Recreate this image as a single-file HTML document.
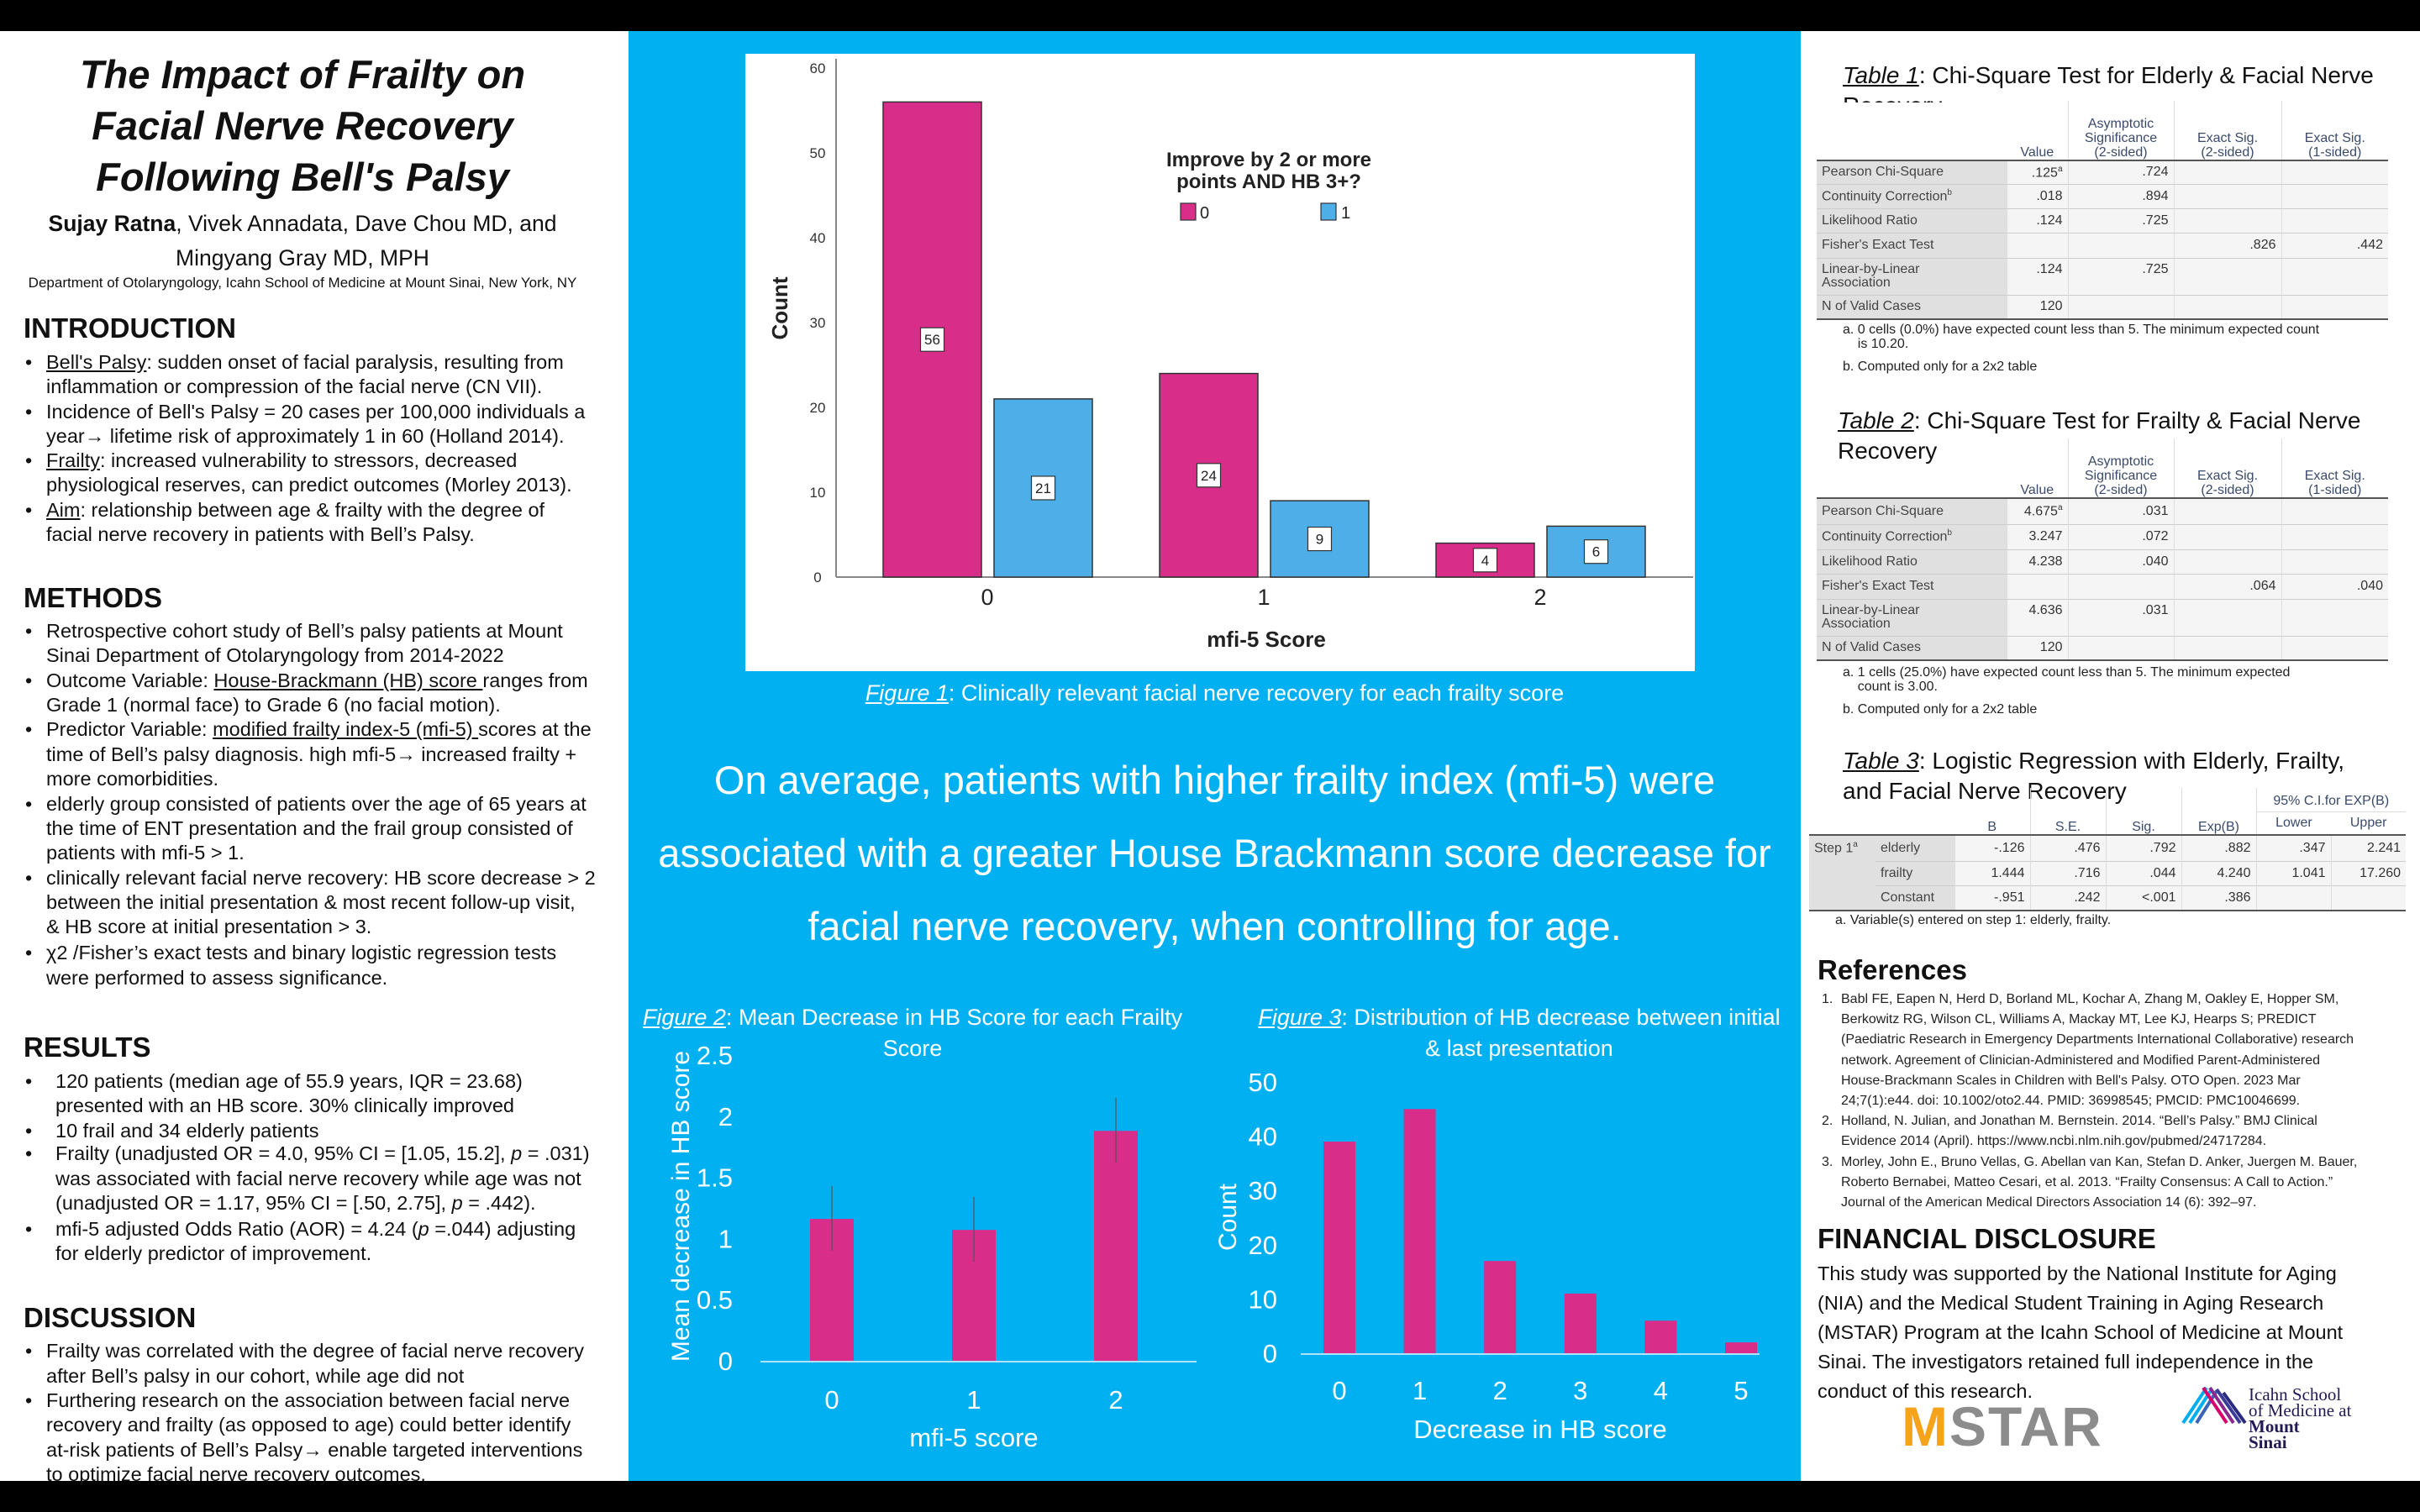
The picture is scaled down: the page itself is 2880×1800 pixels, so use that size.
<!DOCTYPE html>
<html><head><meta charset="utf-8">
<style>
*{margin:0;padding:0;box-sizing:border-box}
body{width:2880px;height:1800px;position:relative;overflow:hidden;background:#fff;font-family:"Liberation Sans",sans-serif;color:#111}
.abs{position:absolute}
.ln{position:absolute;white-space:nowrap;font-size:23.5px;line-height:29px}
.h{position:absolute;font-weight:bold;font-size:33px;white-space:nowrap}
u{text-decoration:underline}
.ar{font-weight:bold}
.tbl{position:absolute;border-collapse:collapse;font-size:16px;color:#333;table-layout:fixed}
.tbl td{padding:0 6px;border-top:1px solid #ccc;vertical-align:middle;white-space:nowrap}
.tbl td.l{background:#e0e0e0;color:#444}
.tbl td.c{background:#f5f5f5;text-align:right;border-left:1px solid #ddd}
.tbl tr.hd td{border-top:none;background:transparent;text-align:center;color:#3a4a6a;vertical-align:bottom;line-height:17px;border-left:1px solid #ddd}
.tbl tr.hd td:first-child{border-left:none}
.tbl tr.f td{border-bottom:2px solid #555}
.tbl tr.first td{border-top:2px solid #555}
.fn{position:absolute;font-size:16px;color:#222;white-space:nowrap;line-height:17px}
.ttl{position:absolute;font-size:28px;white-space:nowrap;line-height:36px}
.ref{position:absolute;font-size:16px;line-height:24.2px;color:#222;white-space:nowrap}
</style></head><body>
<div class="abs" style="left:0;top:0;width:2880px;height:37px;background:#000"></div>
<div class="abs" style="left:0;top:1763px;width:2880px;height:37px;background:#000"></div>
<div class="abs" style="left:748px;top:37px;width:1395px;height:1726px;background:#00b0f0"></div>

<!-- LEFT COLUMN -->
<div class="abs" style="left:0;top:58px;width:720px;text-align:center;font-weight:bold;font-style:italic;font-size:47px;line-height:61px">The Impact of Frailty on<br>Facial Nerve Recovery<br>Following Bell's Palsy</div>
<div class="abs" style="left:0;top:246px;width:720px;text-align:center;font-size:26.5px;line-height:41px"><b>Sujay Ratna</b>, Vivek Annadata, Dave Chou MD, and<br>Mingyang Gray MD, MPH</div>
<div class="abs" style="left:0;top:327px;width:720px;text-align:center;font-size:17px;white-space:nowrap">Department of Otolaryngology, Icahn School of Medicine at Mount Sinai, New York, NY</div>

<div class="h" style="left:28px;top:372px">INTRODUCTION</div>
<div>
<div class="ln" style="left:30px;top:417px">•</div><div class="ln" style="left:55px;top:417px"><u>Bell's Palsy</u>: sudden onset of facial paralysis, resulting from</div>
<div class="ln" style="left:55px;top:446px">inflammation or compression of the facial nerve (CN VII).</div>
<div class="ln" style="left:30px;top:476px">•</div><div class="ln" style="left:55px;top:476px">Incidence of Bell's Palsy = 20 cases per 100,000 individuals a</div>
<div class="ln" style="left:55px;top:505px">year<span class="ar">→</span> lifetime risk of approximately 1 in 60 (Holland 2014).</div>
<div class="ln" style="left:30px;top:534px">•</div><div class="ln" style="left:55px;top:534px"><u>Frailty</u>: increased vulnerability to stressors, decreased</div>
<div class="ln" style="left:55px;top:563px">physiological reserves, can predict outcomes (Morley 2013).</div>
<div class="ln" style="left:30px;top:593px">•</div><div class="ln" style="left:55px;top:593px"><u>Aim</u>: relationship between age &amp; frailty with the degree of</div>
<div class="ln" style="left:55px;top:622px">facial nerve recovery in patients with Bell’s Palsy.</div>
</div>

<div class="h" style="left:28px;top:693px">METHODS</div>
<div>
<div class="ln" style="left:30px;top:737px">•</div><div class="ln" style="left:55px;top:737px">Retrospective cohort study of Bell’s palsy patients at Mount</div>
<div class="ln" style="left:55px;top:766px">Sinai Department of Otolaryngology from 2014-2022</div>
<div class="ln" style="left:30px;top:796px">•</div><div class="ln" style="left:55px;top:796px">Outcome Variable: <u>House-Brackmann (HB) score </u>ranges from</div>
<div class="ln" style="left:55px;top:825px">Grade 1 (normal face) to Grade 6 (no facial motion).</div>
<div class="ln" style="left:30px;top:854px">•</div><div class="ln" style="left:55px;top:854px">Predictor Variable: <u>modified frailty index-5 (mfi-5) </u>scores at the</div>
<div class="ln" style="left:55px;top:884px">time of Bell’s palsy diagnosis. high mfi-5<span class="ar">→</span> increased frailty +</div>
<div class="ln" style="left:55px;top:913px">more comorbidities.</div>
<div class="ln" style="left:30px;top:943px">•</div><div class="ln" style="left:55px;top:943px">elderly group consisted of patients over the age of 65 years at</div>
<div class="ln" style="left:55px;top:972px">the time of ENT presentation and the frail group consisted of</div>
<div class="ln" style="left:55px;top:1001px">patients with mfi-5 &gt; 1.</div>
<div class="ln" style="left:30px;top:1031px">•</div><div class="ln" style="left:55px;top:1031px">clinically relevant facial nerve recovery:  HB score decrease &gt; 2</div>
<div class="ln" style="left:55px;top:1060px">between the initial presentation &amp; most recent follow-up visit,</div>
<div class="ln" style="left:55px;top:1089px">&amp; HB score at initial presentation &gt; 3.</div>
<div class="ln" style="left:30px;top:1120px">•</div><div class="ln" style="left:55px;top:1120px">χ2 /Fisher’s exact tests and binary logistic regression tests</div>
<div class="ln" style="left:55px;top:1150px">were performed to assess significance.</div>
</div>

<div class="h" style="left:28px;top:1228px">RESULTS</div>
<div>
<div class="ln" style="left:30px;top:1273px">•</div><div class="ln" style="left:66px;top:1273px">120 patients (median age of 55.9 years, IQR = 23.68)</div>
<div class="ln" style="left:66px;top:1302px">presented with an HB score. 30% clinically improved</div>
<div class="ln" style="left:30px;top:1332px">•</div><div class="ln" style="left:66px;top:1332px">10 frail and 34 elderly patients</div>
<div class="ln" style="left:30px;top:1359px">•</div><div class="ln" style="left:66px;top:1359px">Frailty (unadjusted OR = 4.0, 95% CI = [1.05, 15.2], <i>p</i> = .031)</div>
<div class="ln" style="left:66px;top:1389px">was associated with facial nerve recovery while age was not</div>
<div class="ln" style="left:66px;top:1418px">(unadjusted OR = 1.17, 95% CI = [.50, 2.75], <i>p</i> = .442).</div>
<div class="ln" style="left:30px;top:1449px">•</div><div class="ln" style="left:66px;top:1449px">mfi-5 adjusted Odds Ratio (AOR) = 4.24 (<i>p</i> =.044) adjusting</div>
<div class="ln" style="left:66px;top:1478px">for elderly predictor of improvement.</div>
</div>

<div class="h" style="left:28px;top:1550px">DISCUSSION</div>
<div>
<div class="ln" style="left:30px;top:1594px">•</div><div class="ln" style="left:55px;top:1594px">Frailty was correlated with the degree of facial nerve recovery</div>
<div class="ln" style="left:55px;top:1624px">after Bell’s palsy in our cohort, while age did not</div>
<div class="ln" style="left:30px;top:1653px">•</div><div class="ln" style="left:55px;top:1653px">Furthering research on the association between facial nerve</div>
<div class="ln" style="left:55px;top:1682px">recovery and frailty (as opposed to age) could better identify</div>
<div class="ln" style="left:55px;top:1712px">at-risk patients of Bell’s Palsy<span class="ar">→</span> enable targeted interventions</div>
<div class="ln" style="left:55px;top:1741px">to optimize facial nerve recovery outcomes.</div>
</div>

<!-- CENTER -->
<div class="abs" style="left:887px;top:64px;width:1130px;height:735px;background:#fff"></div>
<div class="abs" style="left:748px;top:810px;width:1395px;text-align:center;color:#fff;font-size:27px;white-space:nowrap"><i><u>Figure 1</u></i>: Clinically relevant facial nerve recovery for each frailty score</div>
<div class="abs" style="left:748px;top:885px;width:1395px;text-align:center;color:#fff;font-size:47px;line-height:87px;white-space:nowrap">On average, patients with higher frailty index (mfi-5) were<br>associated with a greater House Brackmann score decrease for<br>facial nerve recovery, when controlling for age.</div>
<div class="abs" style="left:748px;top:1193px;width:676px;text-align:center;color:#fff;font-size:27px;line-height:37px;white-space:nowrap"><i><u>Figure 2</u></i>: Mean Decrease in HB Score for each Frailty<br>Score</div>
<div class="abs" style="left:1470px;top:1193px;width:676px;text-align:center;color:#fff;font-size:27px;line-height:37px;white-space:nowrap"><i><u>Figure 3</u></i>: Distribution of HB decrease between initial<br>&amp; last presentation</div>

<svg id="charts" class="abs" style="left:0;top:0" width="2880" height="1800" xmlns="http://www.w3.org/2000/svg"></svg>

<!-- RIGHT COLUMN -->
<div class="ttl" style="left:2193px;top:72px"><i><u>Table 1</u></i>: Chi-Square Test for Elderly &amp; Facial Nerve</div>
<div class="abs" style="left:2193px;top:108px;height:14px;overflow:hidden;font-size:28px;line-height:36px"><div style="margin-top:0">Recovery</div></div>
<table class="tbl" style="left:2162px;top:120px;width:680px">
<colgroup><col style="width:226px"><col style="width:73px"><col style="width:126px"><col style="width:128px"><col style="width:127px"></colgroup>
<tr class="hd" style="height:71px"><td></td><td style="border-left:none">Value</td><td>Asymptotic<br>Significance<br>(2-sided)</td><td>Exact Sig.<br>(2-sided)</td><td>Exact Sig.<br>(1-sided)</td></tr>
<tr class="first" style="height:28px"><td class="l">Pearson Chi-Square</td><td class="c">.125<sup style="font-size:10px">a</sup></td><td class="c">.724</td><td class="c"></td><td class="c"></td></tr>
<tr style="height:29px"><td class="l">Continuity Correction<sup style="font-size:10px">b</sup></td><td class="c">.018</td><td class="c">.894</td><td class="c"></td><td class="c"></td></tr>
<tr style="height:29px"><td class="l">Likelihood Ratio</td><td class="c">.124</td><td class="c">.725</td><td class="c"></td><td class="c"></td></tr>
<tr style="height:30px"><td class="l">Fisher's Exact Test</td><td class="c"></td><td class="c"></td><td class="c">.826</td><td class="c">.442</td></tr>
<tr style="height:44px"><td class="l" style="line-height:16px">Linear-by-Linear<br>Association</td><td class="c" style="vertical-align:top;padding-top:4px">.124</td><td class="c" style="vertical-align:top;padding-top:4px">.725</td><td class="c"></td><td class="c"></td></tr>
<tr class="f" style="height:29px"><td class="l">N of Valid Cases</td><td class="c">120</td><td class="c"></td><td class="c"></td><td class="c"></td></tr>
</table>
<div class="fn" style="left:2193px;top:384px">a. 0 cells (0.0%) have expected count less than 5. The minimum expected count<br>&nbsp;&nbsp;&nbsp;&nbsp;is 10.20.<br><span style="display:inline-block;margin-top:10px">b. Computed only for a 2x2 table</span></div>

<div class="ttl" style="left:2187px;top:483px;line-height:36px"><i><u>Table 2</u></i>: Chi-Square Test for Frailty &amp; Facial Nerve<br>Recovery</div>
<table class="tbl" style="left:2162px;top:522px;width:680px">
<colgroup><col style="width:226px"><col style="width:73px"><col style="width:126px"><col style="width:128px"><col style="width:127px"></colgroup>
<tr class="hd" style="height:71px"><td></td><td style="border-left:none">Value</td><td>Asymptotic<br>Significance<br>(2-sided)</td><td>Exact Sig.<br>(2-sided)</td><td>Exact Sig.<br>(1-sided)</td></tr>
<tr class="first" style="height:31px"><td class="l">Pearson Chi-Square</td><td class="c">4.675<sup style="font-size:10px">a</sup></td><td class="c">.031</td><td class="c"></td><td class="c"></td></tr>
<tr style="height:30px"><td class="l">Continuity Correction<sup style="font-size:10px">b</sup></td><td class="c">3.247</td><td class="c">.072</td><td class="c"></td><td class="c"></td></tr>
<tr style="height:29px"><td class="l">Likelihood Ratio</td><td class="c">4.238</td><td class="c">.040</td><td class="c"></td><td class="c"></td></tr>
<tr style="height:30px"><td class="l">Fisher's Exact Test</td><td class="c"></td><td class="c"></td><td class="c">.064</td><td class="c">.040</td></tr>
<tr style="height:44px"><td class="l" style="line-height:16px">Linear-by-Linear<br>Association</td><td class="c" style="vertical-align:top;padding-top:4px">4.636</td><td class="c" style="vertical-align:top;padding-top:4px">.031</td><td class="c"></td><td class="c"></td></tr>
<tr class="f" style="height:29px"><td class="l">N of Valid Cases</td><td class="c">120</td><td class="c"></td><td class="c"></td><td class="c"></td></tr>
</table>
<div class="fn" style="left:2193px;top:792px">a. 1 cells (25.0%) have expected count less than 5. The minimum expected<br>&nbsp;&nbsp;&nbsp;&nbsp;count is 3.00.<br><span style="display:inline-block;margin-top:10px">b. Computed only for a 2x2 table</span></div>

<div class="ttl" style="left:2193px;top:888px;line-height:36px"><i><u>Table 3</u></i>: Logistic Regression with Elderly, Frailty,<br>and Facial Nerve Recovery</div>
<table class="tbl" style="left:2153px;top:938px;width:710px">
<colgroup><col style="width:79px"><col style="width:94px"><col style="width:90px"><col style="width:90px"><col style="width:90px"><col style="width:89px"><col style="width:89px"><col style="width:89px"></colgroup>
<tr class="hd" style="height:56px"><td style="border-left:none"></td><td style="border-left:none"></td><td style="border-left:none">B</td><td>S.E.</td><td>Sig.</td><td>Exp(B)</td><td colspan="2" style="padding:0"><div style="border-bottom:1px solid #ddd;line-height:24px">95% C.I.for EXP(B)</div><div style="display:flex;line-height:26px"><span style="flex:1">Lower</span><span style="flex:1">Upper</span></div></td></tr>
<tr class="first" style="height:31px"><td class="l" style="border-bottom:none">Step 1<sup style="font-size:10px">a</sup></td><td class="l">elderly</td><td class="c">-.126</td><td class="c">.476</td><td class="c">.792</td><td class="c">.882</td><td class="c">.347</td><td class="c">2.241</td></tr>
<tr style="height:29px"><td class="l" style="border-top:none"></td><td class="l">frailty</td><td class="c">1.444</td><td class="c">.716</td><td class="c">.044</td><td class="c">4.240</td><td class="c">1.041</td><td class="c">17.260</td></tr>
<tr class="f" style="height:30px"><td class="l" style="border-top:none"></td><td class="l">Constant</td><td class="c">-.951</td><td class="c">.242</td><td class="c">&lt;.001</td><td class="c">.386</td><td class="c"></td><td class="c"></td></tr>
</table>
<div class="fn" style="left:2184px;top:1087px">a. Variable(s) entered on step 1: elderly, frailty.</div>

<div class="h" style="left:2163px;top:1136px">References</div>
<div>
<div class="ref" style="left:2168px;top:1178px">1.</div>
<div class="ref" style="left:2191px;top:1178px">Babl FE, Eapen N, Herd D, Borland ML, Kochar A, Zhang M, Oakley E, Hopper SM,<br>Berkowitz RG, Wilson CL, Williams A, Mackay MT, Lee KJ, Hearps S; PREDICT<br>(Paediatric Research in Emergency Departments International Collaborative) research<br>network. Agreement of Clinician-Administered and Modified Parent-Administered<br>House-Brackmann Scales in Children with Bell's Palsy. OTO Open. 2023 Mar<br>24;7(1):e44. doi: 10.1002/oto2.44. PMID: 36998545; PMCID: PMC10046699.</div>
<div class="ref" style="left:2168px;top:1323px">2.</div>
<div class="ref" style="left:2191px;top:1323px">Holland, N. Julian, and Jonathan M. Bernstein. 2014. “Bell’s Palsy.” BMJ Clinical<br>Evidence 2014 (April). https://www.ncbi.nlm.nih.gov/pubmed/24717284.</div>
<div class="ref" style="left:2168px;top:1372px">3.</div>
<div class="ref" style="left:2191px;top:1372px">Morley, John E., Bruno Vellas, G. Abellan van Kan, Stefan D. Anker, Juergen M. Bauer,<br>Roberto Bernabei, Matteo Cesari, et al. 2013. “Frailty Consensus: A Call to Action.”<br>Journal of the American Medical Directors Association 14 (6): 392–97.</div>
</div>

<div class="h" style="left:2163px;top:1456px">FINANCIAL DISCLOSURE</div>
<div class="abs" style="left:2163px;top:1499px;font-size:23.5px;line-height:35px;white-space:nowrap">This study was supported by the National Institute for Aging<br>(NIA) and the Medical Student Training in Aging Research<br>(MSTAR) Program at the Icahn School of Medicine at Mount<br>Sinai. The investigators retained full independence in the<br>conduct of this research.</div>
<div class="abs" style="left:2263px;top:1663px;font-size:66px;font-weight:bold;line-height:70px;letter-spacing:2px"><span style="color:#f5a31a">M</span><span style="color:#8c8c8c">STAR</span></div>
<svg class="abs" style="left:2596px;top:1648px" width="78" height="50">
<g stroke-width="4">
<line x1="2" y1="46" x2="30" y2="4" stroke="#00aeef"/><line x1="10" y1="46" x2="36" y2="6" stroke="#00aeef"/><line x1="18" y1="46" x2="42" y2="8" stroke="#3b63b8"/>
<line x1="26" y1="4" x2="54" y2="46" stroke="#d6006e"/><line x1="34" y1="4" x2="62" y2="46" stroke="#8a2a8f"/><line x1="42" y1="6" x2="70" y2="46" stroke="#3b3b98"/><line x1="50" y1="10" x2="76" y2="46" stroke="#2b2b80"/>
</g></svg>
<div class="abs" style="left:2676px;top:1651px;font-family:'Liberation Serif',serif;font-size:21px;line-height:19px;color:#221a55">Icahn School<br>of Medicine at<br><b>Mount</b><br><b>Sinai</b></div>

<script>
const NS='http://www.w3.org/2000/svg';
const svg=document.getElementById('charts');
// Figure 1 data
const f1Categories=['0','1','2'];
const f1Series0=[56,24,4];
const f1Series1=[21,9,6];
const f1Ticks=[0,10,20,30,40,50,60];
// Figure 2 data
const f2Categories=['0','1','2'];
const f2Means=[1.16,1.07,1.88];
const f2ErrUpper=[1.43,1.34,2.15];
const f2ErrLower=[0.90,0.81,1.62];
const f2Ticks=['0','0.5','1','1.5','2','2.5'];
// Figure 3 data
const f3Categories=['0','1','2','3','4','5'];
const f3Counts=[39,45,17,11,6,2];
const f3Ticks=[0,10,20,30,40,50];

function el(tag,attrs,text){const e=document.createElementNS(NS,tag);for(const k in attrs)e.setAttribute(k,attrs[k]);if(text!==undefined)e.textContent=text;svg.appendChild(e);return e;}

// ---- Figure 1 ----
const y1=v=>687-v*(606/60);
const x1=i=>1175+i*329;
f1Ticks.forEach(t=>{const e=el('text',{x:973,y:y1(t)+6,'text-anchor':'middle','font-size':17,fill:'#333'},String(t));

});
let ax=el('line',{x1:995,y1:70,x2:995,y2:687,stroke:'#888','stroke-width':2});


ax=el('line',{x1:995,y1:687,x2:2015,y2:687,stroke:'#888','stroke-width':2});


function f1Bar(x,v,col,name){
 const r=el('rect',{x:x,y:y1(v),width:117,height:y1(0)-y1(v),fill:col,stroke:'#333','stroke-width':1.5});
 
 
 const cy=y1(v/2);
 const b=el('rect',{x:x+58.5-14,y:cy-14,width:28,height:28,fill:'#fff',stroke:'#333','stroke-width':1.2});
 
 
 const t=el('text',{x:x+58.5,y:cy+6,'text-anchor':'middle','font-size':17,fill:'#222'},String(v));
 
 
}
f1Categories.forEach((c,i)=>{
 f1Bar(x1(i)-124,f1Series0[i],'#d92d8a','fig1-bar-no-improve-'+c);
 f1Bar(x1(i)+8,f1Series1[i],'#4eaee8','fig1-bar-improve-'+c);
 const t=el('text',{x:x1(i),y:720,'text-anchor':'middle','font-size':27,fill:'#222'},c);
 
 
});
let t=el('text',{x:1507,y:770,'text-anchor':'middle','font-size':26,'font-weight':'bold',fill:'#222'},'mfi-5 Score');


t=el('text',{x:937,y:367,'text-anchor':'middle','font-size':26,'font-weight':'bold',fill:'#222',transform:'rotate(-90 937 367)'},'Count');


t=el('text',{x:1510,y:198,'text-anchor':'middle','font-size':24,'font-weight':'bold',fill:'#222'},'Improve by 2 or more');


t=el('text',{x:1510,y:224,'text-anchor':'middle','font-size':24,'font-weight':'bold',fill:'#222'},'points AND HB 3+?');


let r=el('rect',{x:1405,y:242,width:18,height:20,fill:'#d92d8a',stroke:'#333','stroke-width':1.2});


t=el('text',{x:1428,y:260,'font-size':20,fill:'#222'},'0');


r=el('rect',{x:1572,y:242,width:18,height:20,fill:'#4eaee8',stroke:'#333','stroke-width':1.2});


t=el('text',{x:1596,y:260,'font-size':20,fill:'#222'},'1');



// ---- Figure 2 ----
const y2=v=>1620-v*145.6;
const x2=i=>990+i*169;
f2Ticks.forEach(s=>{const e=el('text',{x:872,y:y2(parseFloat(s))+11,'text-anchor':'end','font-size':31,fill:'#fff'},s);

});
ax=el('line',{x1:905,y1:1621,x2:1424,y2:1621,stroke:'#e8f6fd','stroke-width':1.5});


f2Categories.forEach((c,i)=>{
 const b=el('rect',{x:x2(i)-26,y:y2(f2Means[i]),width:52,height:y2(0)-y2(f2Means[i]),fill:'#d92d8a'});
 
 
 const e=el('line',{x1:x2(i),y1:y2(f2ErrUpper[i]),x2:x2(i),y2:y2(f2ErrLower[i]),stroke:'#555','stroke-width':1.2});
 
 
 const l=el('text',{x:x2(i),y:1677,'text-anchor':'middle','font-size':31,fill:'#fff'},c);
 
 
});
t=el('text',{x:1159,y:1722,'text-anchor':'middle','font-size':31,fill:'#fff'},'mfi-5 score');


t=el('text',{x:820,y:1436,'text-anchor':'middle','font-size':30,fill:'#fff',transform:'rotate(-90 820 1436)'},'Mean decrease in HB score');



// ---- Figure 3 ----
const y3=v=>1611-v*6.46;
const x3=i=>1594+i*95.6;
f3Ticks.forEach(v=>{const e=el('text',{x:1520,y:y3(v)+11,'text-anchor':'end','font-size':31,fill:'#fff'},String(v));

});
ax=el('line',{x1:1548,y1:1612,x2:2094,y2:1612,stroke:'#e8f6fd','stroke-width':1.5});


f3Categories.forEach((c,i)=>{
 const b=el('rect',{x:x3(i)-19,y:y3(f3Counts[i]),width:38,height:y3(0)-y3(f3Counts[i]),fill:'#d92d8a'});
 
 
 const l=el('text',{x:x3(i),y:1666,'text-anchor':'middle','font-size':31,fill:'#fff'},c);
 
 
});
t=el('text',{x:1833,y:1712,'text-anchor':'middle','font-size':31,fill:'#fff'},'Decrease in HB score');


t=el('text',{x:1471,y:1449,'text-anchor':'middle','font-size':30,fill:'#fff',transform:'rotate(-90 1471 1449)'},'Count');


</script>
</body></html>
